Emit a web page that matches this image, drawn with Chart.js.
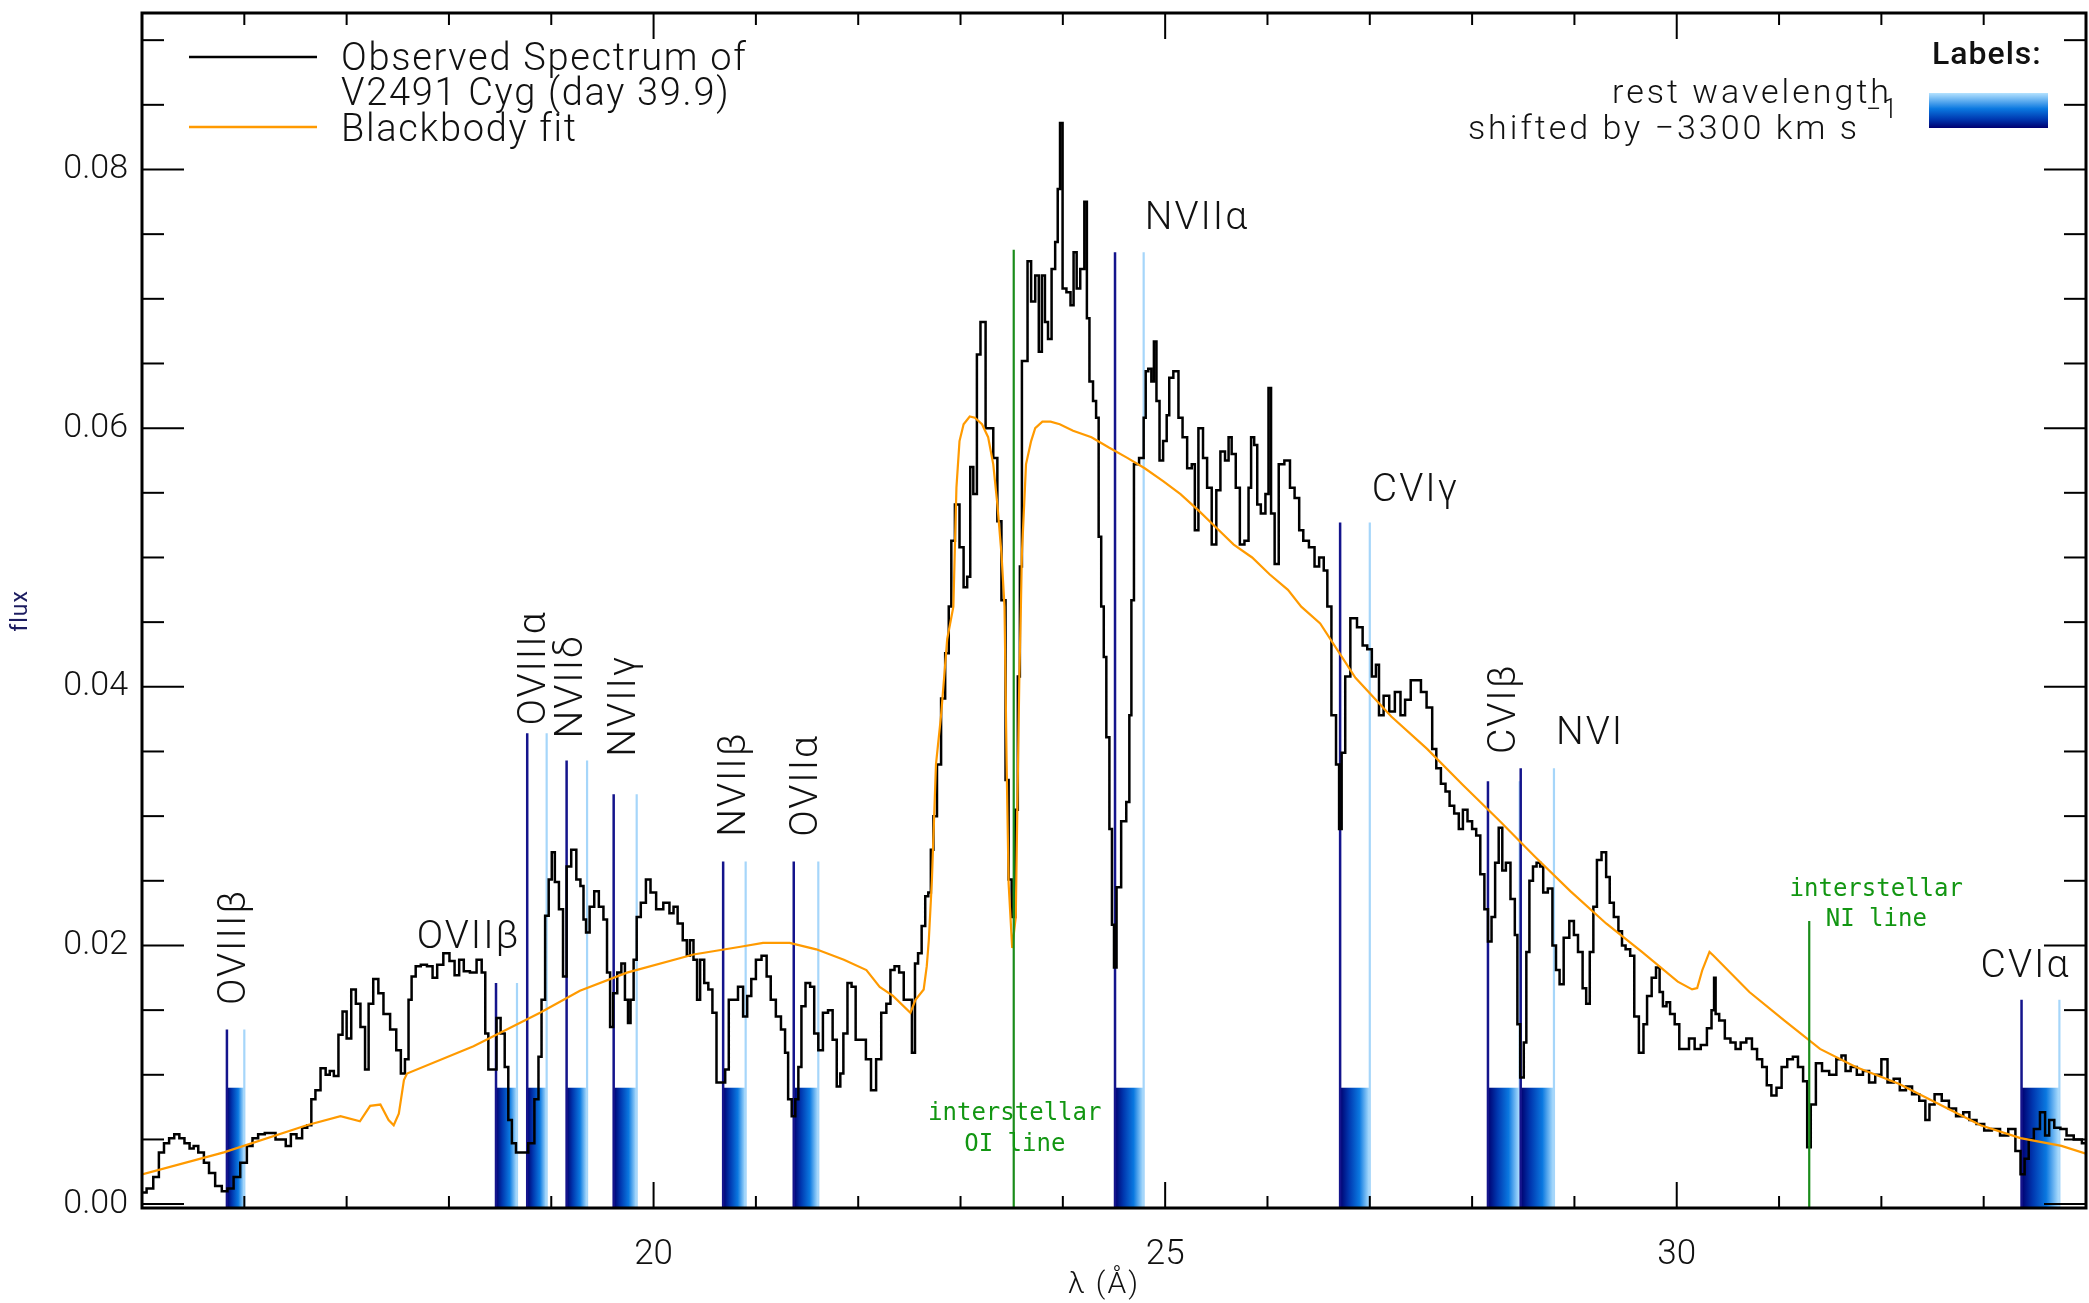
<!DOCTYPE html>
<html>
<head>
<meta charset="utf-8">
<script src="https://cdn.jsdelivr.net/npm/chart.js@4.4.1/dist/chart.umd.min.js"></script>
<style>
  html, body { margin: 0; padding: 0; background: #fff; }
  #wrap { width: 2089px; height: 1303px; }
</style>
</head>
<body>
<div id="wrap"><canvas id="spectrum" width="2089" height="1303"></canvas></div>
<script>
// V2491 Cyg, day 39.9: observed X-ray spectrum (wavelength in Angstrom, flux)
var wavelength = [
  15.01, 15.08, 15.14, 15.19, 15.24, 15.29, 15.34, 15.39, 15.44, 15.49,
  15.52, 15.58, 15.63, 15.68, 15.75, 15.81, 15.86, 15.93, 15.99, 16.06,
  16.10, 16.17, 16.23, 16.28, 16.33, 16.38, 16.43, 16.48, 16.54, 16.59,
  16.64, 16.67, 16.72, 16.77, 16.82, 16.85, 16.90, 16.94, 16.98, 17.02,
  17.07, 17.11, 17.16, 17.20, 17.23, 17.29, 17.33, 17.39, 17.46, 17.51,
  17.55, 17.59, 17.62, 17.65, 17.70, 17.75, 17.82, 17.86, 17.91, 17.98,
  18.03, 18.08, 18.12, 18.17, 18.24, 18.30, 18.34, 18.37, 18.40, 18.45,
  18.48, 18.53, 18.56, 18.60, 18.63, 18.68, 18.74, 18.81, 18.86, 18.89,
  18.92, 18.96, 18.99, 19.02, 19.05, 19.10, 19.13, 19.17, 19.22, 19.27,
  19.30, 19.33, 19.35, 19.40, 19.44, 19.49, 19.53, 19.56, 19.59, 19.62,
  19.67, 19.70, 19.74, 19.76, 19.79, 19.82, 19.85, 19.90, 19.95, 19.99,
  20.06, 20.13, 20.18, 20.21, 20.26, 20.31, 20.34, 20.37, 20.41, 20.44,
  20.47, 20.52, 20.55, 20.60, 20.63, 20.68, 20.72, 20.75, 20.80, 20.85,
  20.90, 20.93, 20.98, 21.02, 21.09, 21.12, 21.17, 21.22, 21.27, 21.30,
  21.33, 21.37, 21.40, 21.43, 21.46, 21.51, 21.55, 21.59, 21.63, 21.68,
  21.73, 21.77, 21.81, 21.84, 21.87, 21.92, 21.95, 22.00, 22.05, 22.10,
  22.15, 22.20, 22.25, 22.30, 22.33, 22.38, 22.42, 22.47, 22.51, 22.54,
  22.57, 22.60, 22.64, 22.67, 22.70, 22.72, 22.75, 22.79, 22.83, 22.87,
  22.90, 22.92, 22.97, 23.01, 23.05, 23.08, 23.11, 23.14, 23.18, 23.21,
  23.24, 23.25, 23.30, 23.34, 23.38, 23.42, 23.46, 23.48, 23.52, 23.55,
  23.57, 23.59, 23.61, 23.64, 23.67, 23.71, 23.75, 23.78, 23.81, 23.84,
  23.87, 23.91, 23.94, 23.96, 23.985, 24.01, 24.06, 24.09, 24.12, 24.15,
  24.19, 24.23, 24.24, 24.28, 24.31, 24.34, 24.36, 24.39, 24.41, 24.44,
  24.47, 24.49, 24.51, 24.54, 24.60, 24.64, 24.66, 24.68, 24.71, 24.78,
  24.80, 24.82, 24.85, 24.88, 24.90, 24.93, 24.96, 25.00, 25.03, 25.05,
  25.11, 25.15, 25.19, 25.24, 25.28, 25.30, 25.35, 25.39, 25.43, 25.48,
  25.52, 25.56, 25.61, 25.63, 25.67, 25.71, 25.75, 25.80, 25.83, 25.85,
  25.89, 25.91, 25.96, 26.00, 26.02, 26.05, 26.09, 26.13, 26.20, 26.24,
  26.29, 26.33, 26.37, 26.44, 26.48, 26.53, 26.57, 26.60, 26.65, 26.69,
  26.71, 26.74, 26.78, 26.84, 26.91, 26.95, 27.00, 27.04, 27.08, 27.10,
  27.17, 27.21, 27.28, 27.32, 27.37, 27.43, 27.48, 27.52, 27.59, 27.63,
  27.67, 27.72, 27.76, 27.80, 27.85, 27.89, 27.93, 27.98, 28.02, 28.06,
  28.10, 28.14, 28.17, 28.21, 28.24, 28.28, 28.31, 28.35, 28.40, 28.435,
  28.45, 28.49, 28.52, 28.54, 28.58, 28.61, 28.65, 28.68, 28.71, 28.77,
  28.80, 28.84, 28.87, 28.92, 28.98, 29.01, 29.06, 29.10, 29.13, 29.17,
  29.20, 29.24, 29.29, 29.33, 29.36, 29.41, 29.45, 29.48, 29.52, 29.57,
  29.60, 29.66, 29.69, 29.73, 29.78, 29.815, 29.85, 29.88, 29.92, 29.95,
  30.01, 30.04, 30.09, 30.15, 30.20, 30.27, 30.32, 30.36, 30.37, 30.39,
  30.44, 30.50, 30.55, 30.60, 30.65, 30.71, 30.76, 30.81, 30.86, 30.90,
  30.95, 31.00, 31.05, 31.11, 31.16, 31.21, 31.26, 31.29, 31.33, 31.39,
  31.45, 31.53, 31.59, 31.63, 31.67, 31.73, 31.79, 31.85, 31.91, 31.97,
  32.03, 32.09, 32.15, 32.21, 32.27, 32.33, 32.41, 32.45, 32.49, 32.55,
  32.63, 32.69, 32.77, 32.83, 32.89, 32.97, 33.04, 33.12, 33.20, 33.28,
  33.34, 33.38, 33.42, 33.46, 33.52, 33.58, 33.62, 33.66, 33.72, 33.78,
  33.84, 33.92, 34.00
];
var flux = [
  0.0009, 0.0012, 0.0021, 0.0040, 0.0047, 0.0051, 0.0054, 0.0051, 0.0047, 0.0043,
  0.0045, 0.0040, 0.0032, 0.0024, 0.0014, 0.0010, 0.0012, 0.0021, 0.0032, 0.0045,
  0.0051, 0.0054, 0.0055, 0.0055, 0.0050, 0.0050, 0.0045, 0.0054, 0.0051, 0.0059,
  0.0061, 0.0081, 0.0088, 0.0105, 0.0100, 0.0103, 0.0099, 0.0131, 0.0149, 0.0128,
  0.0166, 0.0155, 0.0137, 0.0104, 0.0155, 0.0174, 0.0163, 0.0147, 0.0135, 0.0119,
  0.0101, 0.0112, 0.0158, 0.0176, 0.0184, 0.0185, 0.0184, 0.0175, 0.0185, 0.0194,
  0.0188, 0.0177, 0.0189, 0.0180, 0.0179, 0.0189, 0.0179, 0.0132, 0.0104, 0.0104,
  0.0144, 0.0132, 0.0106, 0.0065, 0.0047, 0.0040, 0.0040, 0.0047, 0.0081, 0.0114,
  0.0158, 0.0223, 0.0251, 0.0272, 0.0249, 0.0228, 0.0176, 0.0261, 0.0274, 0.0251,
  0.0246, 0.0220, 0.0210, 0.0230, 0.0242, 0.0230, 0.0220, 0.0179, 0.0137, 0.0163,
  0.0179, 0.0186, 0.0158, 0.0140, 0.0158, 0.0189, 0.0222, 0.0233, 0.0251, 0.0241,
  0.0228, 0.0233, 0.0225, 0.0230, 0.0217, 0.0204, 0.0192, 0.0204, 0.0189, 0.0158,
  0.0189, 0.0171, 0.0166, 0.0148, 0.0094, 0.0094, 0.0104, 0.0158, 0.0158, 0.0168,
  0.0145, 0.0161, 0.0174, 0.0189, 0.0192, 0.0176, 0.0158, 0.0145, 0.0135, 0.0117,
  0.0081, 0.0068, 0.0081, 0.0106, 0.0153, 0.0171, 0.0168, 0.0132, 0.0119, 0.0148,
  0.0150, 0.0127, 0.0091, 0.0101, 0.0132, 0.0171, 0.0168, 0.0127, 0.0127, 0.0112,
  0.0088, 0.0112, 0.0148, 0.0155, 0.0181, 0.0184, 0.0179, 0.0158, 0.0158, 0.0117,
  0.0186, 0.0194, 0.0215, 0.0238, 0.0241, 0.0274, 0.0300, 0.0340, 0.0391, 0.0426,
  0.0462, 0.0513, 0.0541, 0.0508, 0.0477, 0.0485, 0.0570, 0.0549, 0.0657, 0.0682,
  0.0682, 0.0600, 0.0600, 0.0577, 0.0528, 0.0467, 0.0328, 0.0251, 0.0222, 0.0305,
  0.0408, 0.0493, 0.0652, 0.0652, 0.0729, 0.0698, 0.0718, 0.0659, 0.0718, 0.0682,
  0.0669, 0.0723, 0.0744, 0.0785, 0.0836, 0.0708, 0.0705, 0.0695, 0.0736, 0.0708,
  0.0723, 0.0775, 0.0685, 0.0636, 0.0621, 0.0608, 0.0516, 0.0462, 0.0423, 0.0361,
  0.0290, 0.0216, 0.0183, 0.0245, 0.0296, 0.0311, 0.0378, 0.0467, 0.0572, 0.0577,
  0.0608, 0.0644, 0.0646, 0.0636, 0.0667, 0.0621, 0.0575, 0.0590, 0.0610, 0.0639,
  0.0644, 0.0608, 0.0593, 0.0569, 0.0572, 0.0521, 0.0600, 0.0577, 0.0554, 0.0510,
  0.0552, 0.0582, 0.0575, 0.0593, 0.0580, 0.0554, 0.0510, 0.0513, 0.0554, 0.0593,
  0.0587, 0.0541, 0.0534, 0.0549, 0.0631, 0.0534, 0.0495, 0.0572, 0.0575, 0.0554,
  0.0546, 0.0521, 0.0513, 0.0508, 0.0493, 0.0500, 0.0490, 0.0462, 0.0378, 0.0340,
  0.0290, 0.0349, 0.0408, 0.0453, 0.0446, 0.0432, 0.0429, 0.0408, 0.0417, 0.0378,
  0.0393, 0.0381, 0.0396, 0.0378, 0.0390, 0.0405, 0.0405, 0.0396, 0.0384, 0.0352,
  0.0337, 0.0325, 0.0319, 0.0308, 0.0302, 0.0290, 0.0305, 0.0296, 0.0290, 0.0285,
  0.0255, 0.0228, 0.0203, 0.0222, 0.0264, 0.0291, 0.0258, 0.0264, 0.0236, 0.0208,
  0.0139, 0.0098, 0.0125, 0.0195, 0.0250, 0.0261, 0.0264, 0.0261, 0.0241, 0.0244,
  0.0200, 0.0181, 0.0170, 0.0206, 0.0219, 0.0208, 0.0195, 0.0167, 0.0155, 0.0195,
  0.0230, 0.0266, 0.0272, 0.0253, 0.0233, 0.0222, 0.0211, 0.0200, 0.0197, 0.0192,
  0.0145, 0.0117, 0.0139, 0.0161, 0.0175, 0.0183, 0.0164, 0.0153, 0.0156, 0.0147,
  0.0139, 0.0120, 0.0120, 0.0128, 0.0120, 0.0123, 0.0136, 0.0150, 0.0175, 0.0147,
  0.0142, 0.0128, 0.0125, 0.0120, 0.0125, 0.0128, 0.0120, 0.0112, 0.0106, 0.0092,
  0.0084, 0.0090, 0.0106, 0.0112, 0.0114, 0.0106, 0.0095, 0.0044, 0.0077, 0.0109,
  0.0103, 0.0100, 0.0112, 0.0115, 0.0103, 0.0106, 0.0100, 0.0103, 0.0094, 0.0100,
  0.0112, 0.0094, 0.0097, 0.0088, 0.0091, 0.0085, 0.0080, 0.0065, 0.0077, 0.0085,
  0.0080, 0.0074, 0.0068, 0.0071, 0.0065, 0.0062, 0.0057, 0.0058, 0.0053, 0.0058,
  0.0041, 0.0023, 0.0035, 0.0050, 0.0058, 0.0071, 0.0053, 0.0065, 0.0059, 0.0058,
  0.0053, 0.0050, 0.0047
];

// blackbody fit
var fitWavelength = [
  15.00, 15.80, 16.61, 16.94, 17.13, 17.23, 17.33, 17.41, 17.46, 17.51,
  17.56, 17.59, 18.24, 18.89, 19.28, 19.74, 20.39, 20.85, 21.07, 21.33,
  21.59, 21.86, 22.08, 22.21, 22.34, 22.51, 22.56, 22.64, 22.67, 22.69,
  22.72, 22.76, 22.81, 22.87, 22.93, 22.96, 22.99, 23.03, 23.09, 23.14,
  23.21, 23.27, 23.32, 23.36, 23.40, 23.43, 23.45, 23.47, 23.505, 23.54,
  23.555, 23.575, 23.59, 23.60, 23.64, 23.69, 23.73, 23.80, 23.88, 23.97,
  24.10, 24.28, 24.45, 24.63, 24.80, 24.98, 25.15, 25.33, 25.50, 25.67,
  25.85, 26.02, 26.20, 26.33, 26.515, 26.86, 27.21, 27.56, 27.91, 28.26,
  28.61, 28.96, 29.31, 29.66, 30.01, 30.15, 30.20, 30.25, 30.32, 30.36,
  30.71, 31.05, 31.40, 31.75, 32.17, 32.57, 32.97, 33.36, 33.76, 34.00
];
var fitFlux = [
  0.0023, 0.0040, 0.0061, 0.0068, 0.0064, 0.0076, 0.0077, 0.0065, 0.0061, 0.0070,
  0.0096, 0.0101, 0.0122, 0.0148, 0.0165, 0.0179, 0.0193, 0.0199, 0.0202, 0.0202,
  0.0197, 0.0189, 0.0181, 0.0168, 0.0161, 0.0148, 0.0158, 0.0166, 0.0184, 0.0204,
  0.0250, 0.0340, 0.0378, 0.0437, 0.0462, 0.0554, 0.0590, 0.0603, 0.0609, 0.0608,
  0.0603, 0.0593, 0.0572, 0.0541, 0.0503, 0.0462, 0.0343, 0.0248, 0.0198, 0.0222,
  0.0305, 0.0408, 0.0462, 0.0503, 0.0572, 0.0590, 0.0600, 0.0605, 0.0605, 0.0603,
  0.0598, 0.0593, 0.0585, 0.0577, 0.0569, 0.0559, 0.0549, 0.0536, 0.0523, 0.0510,
  0.0500, 0.0487, 0.0475, 0.0462, 0.0449, 0.0407, 0.0377, 0.0352, 0.0324, 0.0297,
  0.0269, 0.0242, 0.0217, 0.0195, 0.0172, 0.0166, 0.0167, 0.0181, 0.0195, 0.0192,
  0.0164, 0.0142, 0.0120, 0.0106, 0.0093, 0.0077, 0.0061, 0.0051, 0.0045, 0.0039
];

// line identifications: rest wavelength and the same line blue-shifted by 3300 km/s
var lineNames = ['OVIII\u03b2', 'OVII\u03b2', 'OVIII\u03b1', 'NVII\u03b4', 'NVII\u03b3', 'NVII\u03b2',
                 'OVII\u03b1', 'NVII\u03b1', 'CVI\u03b3', 'CVI\u03b2', 'NVI', 'CVI\u03b1'];
var restWavelength    = [16.00, 18.665, 18.955, 19.35, 19.835, 20.90, 21.61, 24.79, 27.00, 28.465, 28.80, 33.74];
var shiftedWavelength = [15.83, 18.46, 18.765, 19.15, 19.61, 20.68, 21.37, 24.51, 26.71, 28.155, 28.475, 33.37];
var markerTop         = [0.0135, 0.0171, 0.0364, 0.0343, 0.0317, 0.0265, 0.0265, 0.0736, 0.0527, 0.0327, 0.0337, 0.0158];
var markerBoxTop = 0.009;

// interstellar absorption lines
var ismNames = [['interstellar', 'OI line'], ['interstellar', 'NI line']];
var ismWavelength = [23.52, 31.295];
var ismTop = [0.0738, 0.0219];

// axis ranges and ticks
var xMin = 15, xMax = 34;
var yMin = -0.0003, yMax = 0.0921;
var xTickLabels = [20, 25, 30];
var yTickLabels = [0.00, 0.02, 0.04, 0.06, 0.08];

// where each identification label sits: [wavelength, flux, rotated]
var labelAnchor = [
  [15.91, 0.0154, true], [17.685, 0.0198, false], [18.84, 0.0370, true], [19.21, 0.0360, true],
  [19.72, 0.0346, true], [20.80, 0.0284, true], [21.50, 0.0284, true], [24.80, 0.0754, false],
  [27.02, 0.0544, false], [28.32, 0.0348, true], [28.82, 0.0356, false], [32.97, 0.0176, false]
];
var ismLabelAnchor = [[23.53, 0.0070, 0.0046], [31.95, 0.0243, 0.0220]];

var FONT = 'Roboto, "DejaVu Sans", sans-serif';

function zip(xs, ys) {
  var out = [];
  for (var i = 0; i < xs.length; i++) out.push({ x: xs[i], y: ys[i] });
  return out;
}

function verticalLines(xs, tops) {
  var out = [];
  for (var i = 0; i < xs.length; i++) {
    out.push({ x: xs[i], y: yMin });
    out.push({ x: xs[i], y: tops[i] });
    out.push({ x: xs[i], y: null });
  }
  return out;
}

function seg(ctx, x0, y0, x1, y1) {
  ctx.beginPath();
  ctx.moveTo(x0, y0);
  ctx.lineTo(x1, y1);
  ctx.stroke();
}

var annotate = {
  id: 'annotate',
  beforeDatasetsDraw: function(chart) {
    var ctx = chart.ctx, xs = chart.scales.x, ys = chart.scales.y, area = chart.chartArea;
    var top = ys.getPixelForValue(markerBoxTop);
    ctx.save();
    for (var i = 0; i < lineNames.length; i++) {
      var x0 = xs.getPixelForValue(shiftedWavelength[i]);
      var x1 = xs.getPixelForValue(restWavelength[i]);
      var g = ctx.createLinearGradient(x0, 0, x1, 0);
      g.addColorStop(0, '#000070');
      g.addColorStop(0.3, '#0038b0');
      g.addColorStop(0.65, '#0a78e0');
      g.addColorStop(1, '#b4e2ff');
      ctx.fillStyle = g;
      ctx.fillRect(x0, top, x1 - x0, area.bottom - top);
    }
    ctx.restore();
  },
  afterDatasetsDraw: function(chart) {
    var ctx = chart.ctx, xs = chart.scales.x, ys = chart.scales.y, a = chart.chartArea;
    ctx.save();

    // frame with inward ticks on all four sides
    ctx.strokeStyle = '#000';
    ctx.lineWidth = 2;
    for (var v = xMin; v <= xMax; v++) {
      var px = xs.getPixelForValue(v);
      var len = v % 5 === 0 ? 26 : 12;
      seg(ctx, px, a.bottom, px, a.bottom - len);
      seg(ctx, px, a.top, px, a.top + len);
    }
    for (var k = 0; k <= 18; k++) {
      var py = ys.getPixelForValue(k * 0.005);
      var ylen = k % 4 === 0 ? 42 : 22;
      seg(ctx, a.left, py, a.left + ylen, py);
      seg(ctx, a.right, py, a.right - ylen, py);
    }
    ctx.lineWidth = 3;
    ctx.strokeRect(a.left, a.top, a.right - a.left, a.bottom - a.top);

    // identification labels
    ctx.fillStyle = '#111';
    ctx.font = '300 39px ' + FONT;
    ctx.letterSpacing = '2px';
    for (var i = 0; i < lineNames.length; i++) {
      var lx = xs.getPixelForValue(labelAnchor[i][0]);
      var ly = ys.getPixelForValue(labelAnchor[i][1]);
      if (labelAnchor[i][2]) {
        ctx.save();
        ctx.translate(lx, ly);
        ctx.rotate(-Math.PI / 2);
        ctx.textAlign = 'left';
        ctx.textBaseline = 'middle';
        ctx.fillText(lineNames[i], 0, 0);
        ctx.restore();
      } else {
        ctx.textAlign = 'left';
        ctx.textBaseline = 'alphabetic';
        ctx.fillText(lineNames[i], lx, ly);
      }
    }

    // interstellar labels
    ctx.fillStyle = '#129612';
    ctx.font = '24px "DejaVu Sans Mono", monospace';
    ctx.letterSpacing = '0px';
    ctx.textAlign = 'center';
    ctx.textBaseline = 'middle';
    for (var j = 0; j < ismNames.length; j++) {
      var cx = xs.getPixelForValue(ismLabelAnchor[j][0]);
      ctx.fillText(ismNames[j][0], cx, ys.getPixelForValue(ismLabelAnchor[j][1]));
      ctx.fillText(ismNames[j][1], cx, ys.getPixelForValue(ismLabelAnchor[j][2]));
    }
    ctx.restore();
  },
  afterDraw: function(chart) {
    var ctx = chart.ctx;
    ctx.save();

    // legend, top left
    ctx.lineWidth = 2.5;
    ctx.strokeStyle = '#000';
    seg(ctx, 189, 57, 317, 57);
    ctx.strokeStyle = '#ff9a00';
    seg(ctx, 189, 127, 317, 127);
    ctx.fillStyle = '#111';
    ctx.font = '300 38px ' + FONT;
    ctx.letterSpacing = '1.7px';
    ctx.textAlign = 'left';
    ctx.textBaseline = 'middle';
    ctx.fillText('Observed Spectrum of', 341, 60);
    ctx.fillText('V2491 Cyg (day 39.9)', 341, 95);
    ctx.fillText('Blackbody fit', 341, 131);

    // marker key, top right
    ctx.letterSpacing = '1px';
    ctx.font = '500 32px ' + FONT;
    ctx.fillText('Labels:', 1932, 56);
    ctx.letterSpacing = '3px';
    ctx.font = '300 34px ' + FONT;
    ctx.textAlign = 'right';
    ctx.fillText('rest wavelength', 1892, 94);
    ctx.fillText('shifted by \u22123300 km s', 1860, 130);
    ctx.letterSpacing = '1px';
    ctx.font = '300 27px ' + FONT;
    ctx.textAlign = 'left';
    ctx.fillText('\u22121', 1866, 111);
    var g = ctx.createLinearGradient(0, 93, 0, 128);
    g.addColorStop(0, '#b4e2ff');
    g.addColorStop(0.45, '#0a78e0');
    g.addColorStop(0.75, '#0038b0');
    g.addColorStop(1, '#000070');
    ctx.fillStyle = g;
    ctx.fillRect(1929, 93, 119, 35);

    // axis titles
    ctx.fillStyle = '#111';
    ctx.letterSpacing = '2px';
    ctx.font = '300 30px ' + FONT;
    ctx.textAlign = 'center';
    ctx.fillText('\u03bb (\u00c5)', 1104, 1285);
    ctx.save();
    ctx.translate(21, 611);
    ctx.rotate(-Math.PI / 2);
    ctx.fillStyle = '#1c1c60';
    ctx.letterSpacing = '1px';
    ctx.font = '23px ' + FONT;
    ctx.fillText('flux', 0, 0);
    ctx.restore();

    ctx.restore();
  }
};

var ctx = document.getElementById('spectrum').getContext('2d');
// tick numbers are set wide, like the vector font of the original plot
ctx.letterSpacing = '4px';

var chart = new Chart(ctx, {
  type: 'line',
  data: {
    datasets: [{
      label: 'Observed Spectrum of V2491 Cyg (day 39.9)',
      data: zip(wavelength, flux),
      borderColor: '#000',
      borderWidth: 2.5,
      stepped: 'middle',
      pointRadius: 0,
      order: 2
    }, {
      label: 'Blackbody fit',
      data: zip(fitWavelength, fitFlux),
      borderColor: '#ff9a00',
      borderWidth: 2.2,
      pointRadius: 0,
      order: 1
    }, {
      label: 'shifted',
      data: verticalLines(shiftedWavelength, markerTop),
      borderColor: '#14148c',
      borderWidth: 2.5,
      pointRadius: 0,
      order: 4
    }, {
      label: 'rest',
      data: verticalLines(restWavelength, markerTop),
      borderColor: '#a6d6fa',
      borderWidth: 2.2,
      pointRadius: 0,
      order: 4
    }, {
      label: 'interstellar',
      data: verticalLines(ismWavelength, ismTop),
      borderColor: '#1a8c1a',
      borderWidth: 2.2,
      pointRadius: 0,
      order: 0
    }]
  },
  options: {
    responsive: false,
    devicePixelRatio: 1,
    animation: false,
    events: [],
    layout: { padding: { top: 13, right: 3, left: 0, bottom: 0 } },
    plugins: {
      legend: { display: false },
      tooltip: { enabled: false }
    },
    scales: {
      x: {
        type: 'linear',
        min: xMin,
        max: xMax,
        grid: { display: false },
        border: { display: false },
        ticks: {
          color: '#111',
          padding: 18,
          maxRotation: 0,
          font: { family: FONT, size: 35, weight: '300' }
        },
        afterBuildTicks: function(scale) {
          scale.ticks = xTickLabels.map(function(v) { return { value: v }; });
        },
        afterFit: function(scale) {
          scale.height = 95;
          scale.paddingLeft = 0;
          scale.paddingRight = 0;
        }
      },
      y: {
        type: 'linear',
        min: yMin,
        max: yMax,
        grid: { display: false },
        border: { display: false },
        ticks: {
          color: '#111',
          padding: 6,
          font: { family: FONT, size: 34, weight: '300' },
          callback: function(v) { return v.toFixed(2); }
        },
        afterBuildTicks: function(scale) {
          scale.ticks = yTickLabels.map(function(v) { return { value: v }; });
        },
        afterFit: function(scale) {
          scale.width = 142;
          scale.paddingTop = 0;
          scale.paddingBottom = 0;
        }
      }
    }
  },
  plugins: [annotate]
});
</script>
</body>
</html>
